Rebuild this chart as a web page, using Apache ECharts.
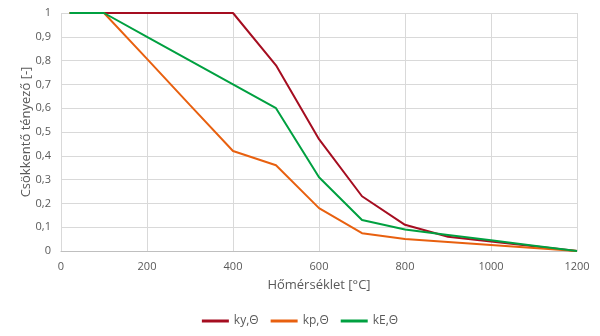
<!DOCTYPE html>
<html>
<head>
<meta charset="utf-8">
<script src="https://cdn.jsdelivr.net/npm/echarts@6/dist/echarts.min.js"></script>
<style>html,body{margin:0;padding:0;background:#fff}#c{width:600px;height:336px}</style>
</head>
<body>
<div id="c"></div>
<script>
// Temperature points [°C] and reduction factors for steel at elevated temperature
const temps = [20, 100, 200, 300, 400, 500, 600, 700, 800, 900, 1000, 1100, 1200];
const kyTheta = [1, 1, 1, 1, 1, 0.78, 0.47, 0.23, 0.11, 0.06, 0.04, 0.02, 0];
const kpTheta = [1, 1, 0.807, 0.613, 0.42, 0.36, 0.18, 0.075, 0.05, 0.0375, 0.025, 0.0125, 0];
const kETheta = [1, 1, 0.9, 0.8, 0.7, 0.6, 0.31, 0.13, 0.09, 0.0675, 0.045, 0.0225, 0];
const seriesNames = ['ky,Θ', 'kp,Θ', 'kE,Θ'];
const colors = ['#a50d20', '#e8600f', '#00a040'];

const pair = arr => temps.map((t, i) => [t, arr[i]]);
const font = 'Open Sans, Liberation Sans, sans-serif';
const txt = '#595959';

const chart = echarts.init(document.getElementById('c'));
chart.setOption({
  animation: false,
  grid: { left: 61, right: 23, top: 13, bottom: 85 },
  legend: {
    bottom: 4,
    left: 'center',
    itemWidth: 27,
    itemHeight: 3,
    itemGap: 12,
    icon: 'rect',
    textStyle: { color: txt, fontFamily: font, fontSize: 12 },
    data: seriesNames
  },
  xAxis: {
    type: 'value', min: 0, max: 1200, interval: 200,
    name: 'Hőmérséklet [°C]', nameLocation: 'middle', nameGap: 28,
    nameMoveOverlap: false,
    nameTextStyle: { color: txt, fontFamily: font, fontSize: 13 },
    axisLine: { show: true, lineStyle: { color: '#bfbfbf' } },
    axisTick: { show: false },
    axisLabel: { color: txt, fontFamily: font, fontSize: 11, margin: 10, formatter: v => String(v) },
    splitLine: { show: true, lineStyle: { color: '#d9d9d9', width: 1 } }
  },
  yAxis: {
    type: 'value', min: 0, max: 1, interval: 0.1,
    name: 'Csökkentő tényező [-]', nameLocation: 'middle', nameGap: 28,
    nameMoveOverlap: false,
    nameTextStyle: { color: txt, fontFamily: font, fontSize: 13 },
    axisLine: { show: false },
    axisTick: { show: false },
    axisLabel: {
      color: txt, fontFamily: font, fontSize: 11, margin: 10,
      formatter: v => String(Math.round(v * 10) / 10).replace('.', ',')
    },
    splitLine: { show: true, lineStyle: { color: '#d9d9d9', width: 1 } }
  },
  series: [kyTheta, kpTheta, kETheta].map((arr, i) => ({
    name: seriesNames[i],
    type: 'line',
    data: pair(arr),
    showSymbol: false,
    symbol: 'none',
    lineStyle: { color: colors[i], width: 2 },
    itemStyle: { color: colors[i] }
  }))
});
</script>
</body>
</html>
